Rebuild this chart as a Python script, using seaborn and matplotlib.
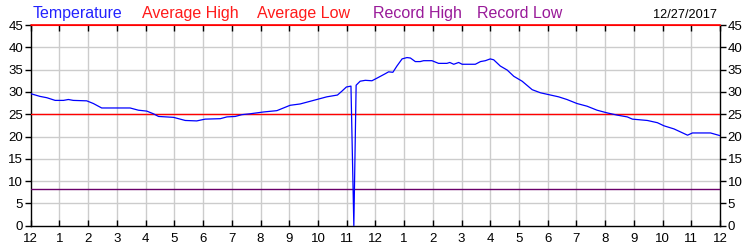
import matplotlib
matplotlib.use("Agg")
import matplotlib.pyplot as plt
import seaborn as sns
import pandas as pd

# ---- data ----
hours = [0, 0.32, 0.56, 0.85, 1.14, 1.31, 1.48, 1.95, 2.18, 2.47, 3.46, 3.75, 4.04, 4.27,
         4.45, 4.97, 5.38, 5.78, 6.07, 6.6, 6.83, 7.12, 7.35, 7.64, 8.1, 8.57, 9.03, 9.38,
         9.73, 10.02, 10.31, 10.68, 10.84, 10.99, 11.15, 11.25, 11.33, 11.47, 11.65, 11.88,
         12.06, 12.35, 12.46, 12.61, 12.75, 12.93, 13.1, 13.22, 13.39, 13.56, 13.68, 13.97,
         14.2, 14.49, 14.59, 14.73, 14.9, 15.02, 15.48, 15.66, 15.83, 16.0, 16.12, 16.35,
         16.59, 16.82, 17.11, 17.46, 17.75, 18.03, 18.38, 18.67, 19.02, 19.37, 19.72, 20.07,
         20.42, 20.77, 20.95, 21.47, 21.82, 22.05, 22.4, 22.87, 23.04, 23.67, 24.0]
temperature = [29.6, 29.0, 28.7, 28.1, 28.1, 28.3, 28.1, 28.0, 27.4, 26.4, 26.4, 25.9, 25.7,
               25.1, 24.5, 24.3, 23.6, 23.5, 23.9, 24.0, 24.4, 24.5, 24.9, 25.1, 25.5, 25.8,
               27.0, 27.3, 27.9, 28.4, 28.9, 29.3, 30.2, 31.1, 31.3, 0.0, 31.5, 32.4, 32.6,
               32.5, 33.1, 34.1, 34.5, 34.4, 35.8, 37.4, 37.7, 37.6, 36.8, 36.8, 37.0, 37.0,
               36.4, 36.4, 36.6, 36.2, 36.6, 36.2, 36.2, 36.8, 37.0, 37.4, 37.2, 35.8, 34.9,
               33.5, 32.4, 30.5, 29.8, 29.4, 28.9, 28.3, 27.4, 26.8, 25.9, 25.3, 24.8, 24.4,
               23.9, 23.6, 23.1, 22.4, 21.7, 20.3, 20.8, 20.8, 20.2]
average_high = 45
average_low = 25
record_low = 8.2
x_tick_labels = ["12", "1", "2", "3", "4", "5", "6", "7", "8", "9", "10", "11",
                 "12", "1", "2", "3", "4", "5", "6", "7", "8", "9", "10", "11", "12"]
y_ticks = [0, 5, 10, 15, 20, 25, 30, 35, 40, 45]
legend_items = ["Temperature", "Average High", "Average Low", "Record High", "Record Low"]
date_label = "12/27/2017"

sns.set_style("white")
plt.rcParams["font.family"] = ["Liberation Sans", "DejaVu Sans"]

df = pd.DataFrame({"hour": hours, "temp": temperature})

fig = plt.figure(figsize=(7.5, 2.5), dpi=100)
ax = fig.add_axes([0.041, 0.097, 0.919, 0.803])

grid_c = "#cccccc"
for h in range(1, 24):
    ax.axvline(h, color=grid_c, lw=1.0, zorder=0)
for v in y_ticks[1:-1]:
    ax.axhline(v, color=grid_c, lw=1.0, zorder=0)

ax.axhline(average_high, color="#ff0000", lw=1.2, zorder=3, clip_on=False)
ax.axhline(average_low, color="#ff0000", lw=1.0, zorder=3)
ax.axhline(record_low, color="#6a006a", lw=1.0, zorder=3)

sns.lineplot(data=df, x="hour", y="temp", ax=ax, color="#0000ff", lw=0.9,
             estimator=None, sort=False, zorder=4)

ax.set_xlim(0, 24)
ax.set_ylim(0, 45)
ax.set_xticks(range(25))
ax.set_xticklabels(x_tick_labels)
ax.set_yticks(y_ticks)
ax.set_xlabel("")
ax.set_ylabel("")

ax.tick_params(axis="x", direction="in", length=4, width=1, top=True, bottom=True,
               labelsize=9.5, pad=5, colors="black")
ax.tick_params(axis="y", direction="out", length=4, width=1, left=True, right=True,
               labelleft=True, labelright=True, labelsize=9.5, pad=1.5, colors="black")

for s in ["left", "right", "bottom"]:
    ax.spines[s].set_color("black")
    ax.spines[s].set_linewidth(1.0)
ax.spines["top"].set_color("#ff0000")

legend_colors = ["#2222ff", "#ff1a1a", "#ff1a1a", "#991a99", "#991a99"]
legend_x = [0.044, 0.189, 0.343, 0.497, 0.636]
for name, c, x in zip(legend_items, legend_colors, legend_x):
    fig.text(x, 0.927, name, color=c, fontsize=11.5, ha="left", va="baseline")
fig.text(0.956, 0.927, date_label, color="black", fontsize=9.2, ha="right", va="baseline")

fig.savefig("out.png", dpi=100)
